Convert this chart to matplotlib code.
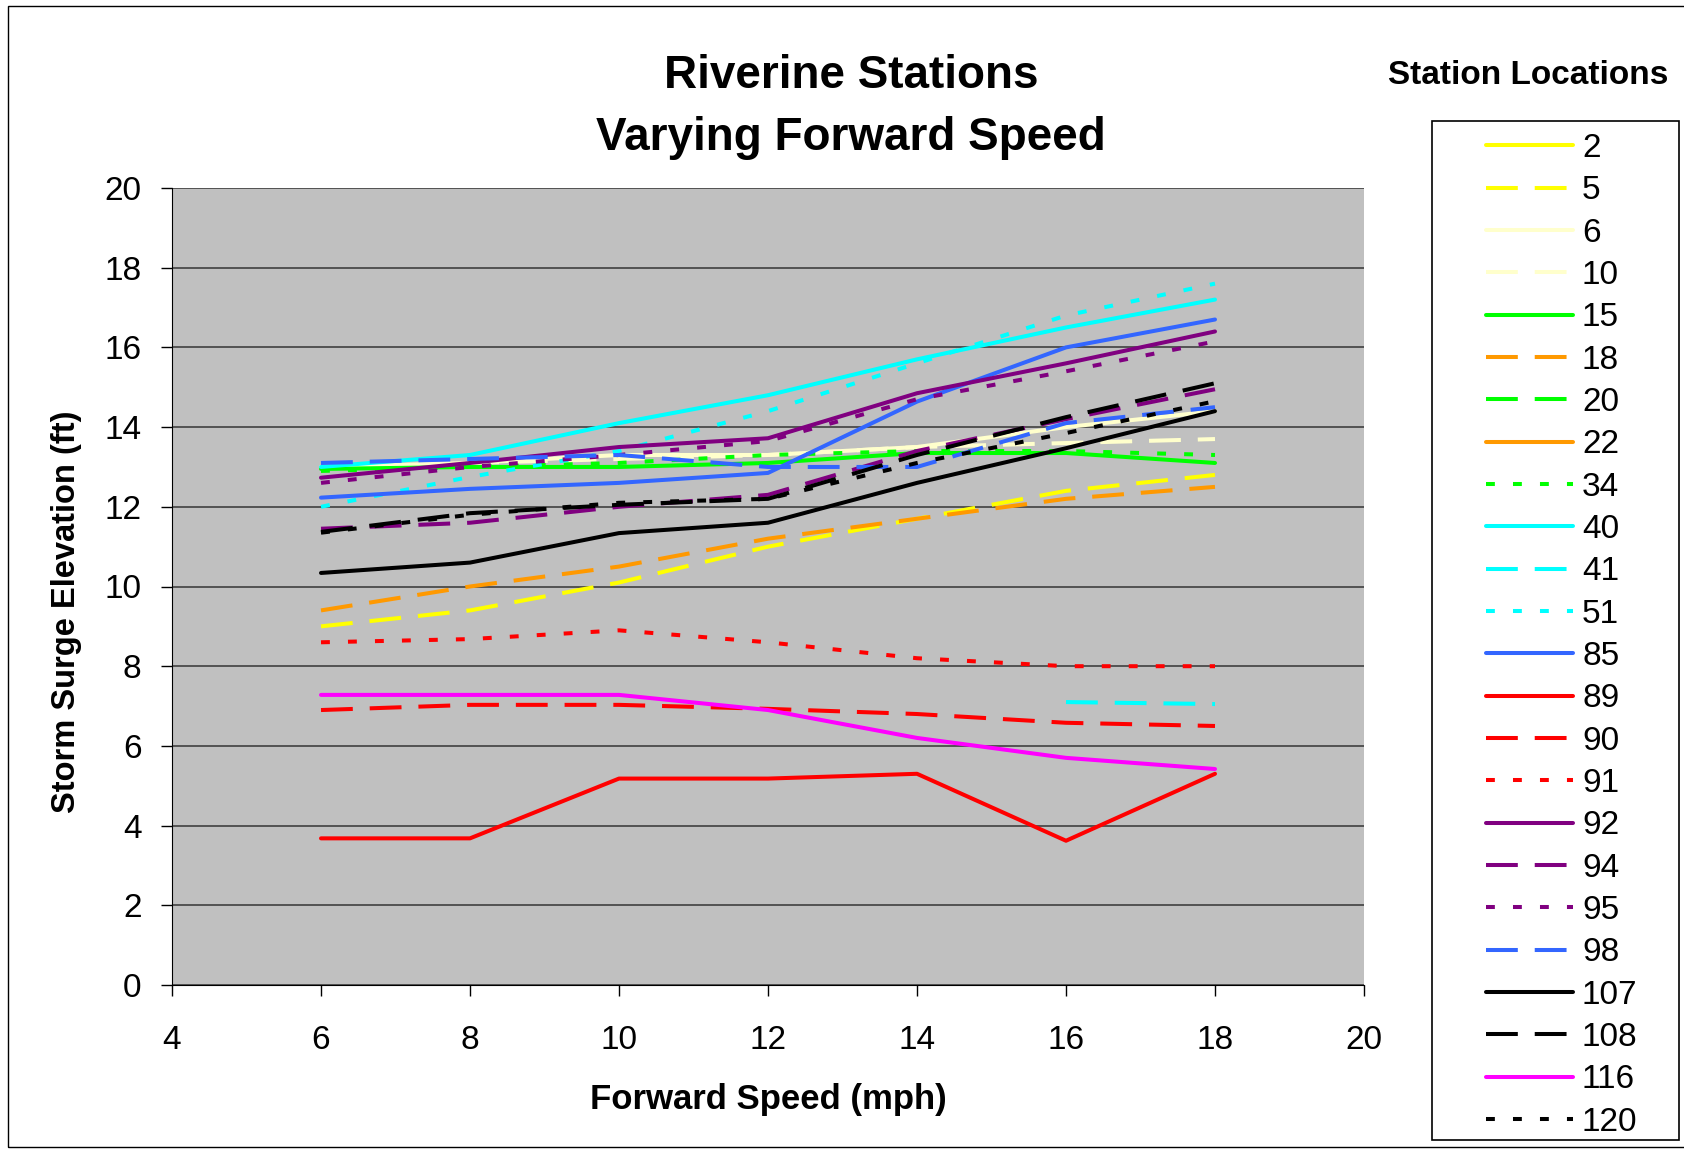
import numpy as np
import matplotlib
matplotlib.use("Agg")
import matplotlib.pyplot as plt
from matplotlib.patches import Rectangle

plt.rcParams['font.family'] = ['Liberation Sans', 'DejaVu Sans']

nan = np.nan

# forward speed (mph)
speeds = [6, 8, 10, 12, 14, 16, 18]

# storm surge elevation (ft) per station
s2 = [nan] * 7
s5 = [9.0, 9.4, 10.1, 11.0, 11.7, 12.4, 12.8]
s6 = [13.0, 13.1, 13.3, 13.3, 13.5, 14.0, 14.4]
s10 = [13.0, 13.1, 13.2, 13.3, 13.5, 13.6, 13.7]
s15 = [12.95, 13.0, 13.0, 13.1, 13.35, 13.35, 13.1]
s18 = [9.4, 10.0, 10.5, 11.2, 11.7, 12.2, 12.5]
s20 = [nan] * 7
s22 = [nan] * 7
s34 = [12.9, 13.0, 13.1, 13.3, 13.4, 13.4, 13.3]
s40 = [13.0, 13.3, 14.1, 14.8, 15.7, 16.5, 17.2]
s41 = [nan, nan, nan, nan, nan, 7.1, 7.05]
s51 = [12.0, 12.75, 13.4, 14.4, 15.6, 16.8, 17.6]
s85 = [12.23, 12.45, 12.6, 12.85, 14.64, 16.0, 16.7]
s89 = [3.68, 3.68, 5.18, 5.18, 5.3, 3.62, 5.3]
s90 = [6.9, 7.03, 7.03, 6.93, 6.8, 6.58, 6.5]
s91 = [8.6, 8.68, 8.9, 8.6, 8.2, 8.0, 8.0]
s92 = [12.73, 13.1, 13.5, 13.72, 14.85, 15.6, 16.4]
s94 = [11.45, 11.6, 12.0, 12.3, 13.4, 14.2, 14.95]
s95 = [12.6, 13.0, 13.3, 13.65, 14.7, 15.4, 16.15]
s98 = [13.1, 13.2, 13.3, 13.0, 13.0, 14.1, 14.5]
s107 = [10.34, 10.6, 11.34, 11.6, 12.6, 13.47, 14.4]
s108 = [11.37, 11.84, 12.05, 12.2, 13.3, 14.25, 15.1]
s116 = [7.28, 7.28, 7.28, 6.9, 6.2, 5.7, 5.42]
s120 = [11.35, 11.8, 12.1, 12.2, 13.1, 13.85, 14.65]

stations = ['2', '5', '6', '10', '15', '18', '20', '22', '34', '40', '41', '51',
            '85', '89', '90', '91', '92', '94', '95', '98', '107', '108', '116', '120']
values = [s2, s5, s6, s10, s15, s18, s20, s22, s34, s40, s41, s51,
          s85, s89, s90, s91, s92, s94, s95, s98, s107, s108, s116, s120]
colors = ['#FFFF00', '#FFFF00', '#FFFFCC', '#FFFFCC', '#00FF00', '#FF9900',
          '#00FF00', '#FF9900', '#00FF00', '#00FFFF', '#00FFFF', '#00FFFF',
          '#3366FF', '#FF0000', '#FF0000', '#FF0000', '#800080', '#800080',
          '#800080', '#3366FF', '#000000', '#000000', '#FF00FF', '#000000']
styles = ['-', '--', '-', '--', '-', '--', '--', '-', ':', '-', '--', ':',
          '-', '-', '--', ':', '-', '--', ':', '--', '-', '--', '-', ':']

LW = 2.9
dash_map = {'-': None, '--': (7.9, 4.2), ':': (2.2, 4.5)}

W, H = 1684, 1150
fig = plt.figure(figsize=(W / 100, H / 100), dpi=100)
ax = fig.add_axes([172 / W, 1 - 985 / H, (1364 - 172) / W, (985 - 188) / H])
ax.set_facecolor('#C0C0C0')

for name, y, c, ls in zip(stations, values, colors, styles):
    d = dash_map[ls]
    if d is None:
        ax.plot(speeds, y, color=c, lw=LW, label=name, solid_capstyle='round')
    else:
        ax.plot(speeds, y, color=c, lw=LW, label=name, dashes=d)

ax.set_xlim(4, 20)
ax.set_ylim(0, 20)
ax.set_xticks(range(4, 21, 2))
ax.set_yticks(range(0, 21, 2))
ax.yaxis.grid(True, color='#404040', lw=1.2)
ax.set_axisbelow(True)
for s in ['top', 'right']:
    ax.spines[s].set_visible(False)
ax.spines['left'].set_color('black')
ax.spines['bottom'].set_color('black')
ax.tick_params(axis='x', labelsize=24, length=8, width=1, pad=21)
ax.tick_params(axis='y', labelsize=24, length=8, width=1, pad=14)

ax.set_xlabel('Forward Speed (mph)', fontsize=25, fontweight='bold')
ax.set_ylabel('Storm Surge Elevation (ft)', fontsize=23.5, fontweight='bold')
ax.xaxis.set_label_coords(0.5, (985 - 1083) / 797)
ax.yaxis.set_label_coords((82 - 172) / 1192, (985 - 612) / 797)

fig.text(851 / W, 1 - 76 / H, 'Riverine Stations', fontsize=33,
         fontweight='bold', ha='center', va='center')
fig.text(851 / W, 1 - 138 / H, 'Varying Forward Speed', fontsize=33,
         fontweight='bold', ha='center', va='center')

# legend box and title
fig.text(1528 / W, 1 - 75 / H, 'Station Locations', fontsize=24,
         fontweight='bold', ha='center', va='center')
fig.patches.append(Rectangle((1432 / W, 1 - 1140 / H), (1679 - 1432) / W,
                             (1140 - 121) / H, transform=fig.transFigure,
                             fill=False, edgecolor='black', lw=1.2))
leg = fig.legend(loc='upper left', bbox_to_anchor=(1486 / W, 1 - 133 / H),
                 bbox_transform=fig.transFigure, frameon=False, fontsize=24,
                 borderpad=0, borderaxespad=0, handlelength=2.6,
                 handletextpad=0.28, labelspacing=0.34)

# outer frame
fig.patches.append(Rectangle((0.005, 0.003), 1.0, 0.992, transform=fig.transFigure,
                             fill=False, edgecolor='black', lw=1.0))

fig.savefig('out.png', dpi=100)
